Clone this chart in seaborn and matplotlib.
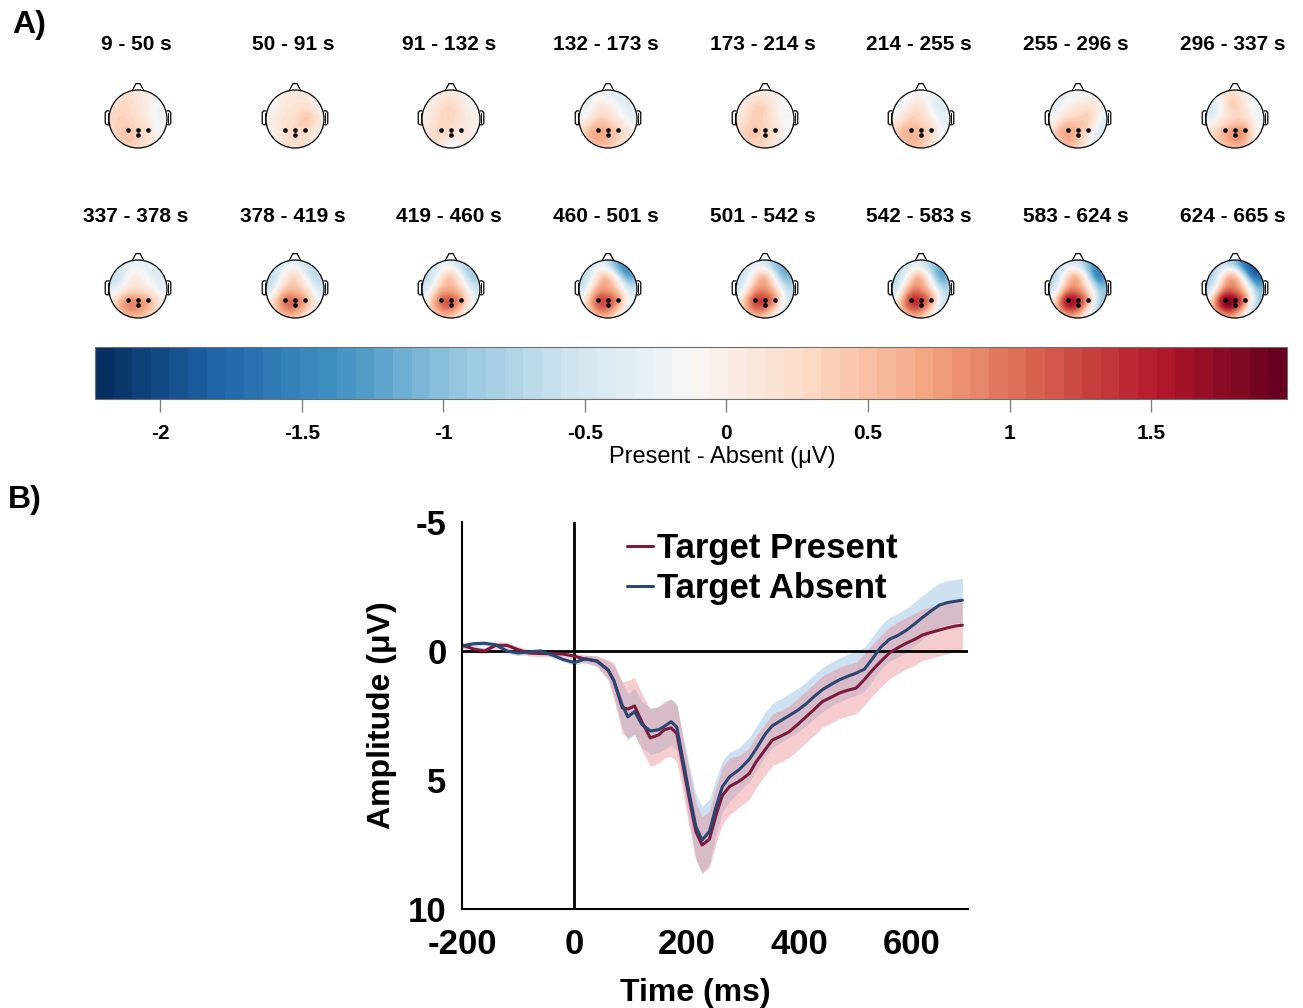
import numpy as np
import pandas as pd
import matplotlib
matplotlib.use("Agg")
import matplotlib.pyplot as plt
import seaborn as sns
from matplotlib.colors import ListedColormap, Normalize
from matplotlib.patches import Circle, Polygon
from matplotlib.lines import Line2D
import matplotlib.cm as mcm

# ---------------- data ----------------
window_edges = [9, 50, 91, 132, 173, 214, 255, 296, 337, 378, 419, 460, 501, 542, 583, 624, 665]

electrode_names = ["Fp1", "Fp2", "F7", "F3", "Fz", "F4", "F8", "T7", "C3", "Cz",
                   "C4", "T8", "P7", "P3", "Pz", "P4", "P8", "O1", "Oz", "O2"]
electrode_x = [-0.30, 0.30, -0.72, -0.35, 0.00, 0.35, 0.72, -0.92, -0.46, 0.00,
               0.46, 0.92, -0.72, -0.35, 0.00, 0.35, 0.72, -0.30, 0.00, 0.30]
electrode_y = [0.85, 0.85, 0.52, 0.45, 0.45, 0.45, 0.52, 0.00, 0.00, 0.00,
               0.00, 0.00, -0.52, -0.45, -0.45, -0.45, -0.52, -0.85, -0.95, -0.85]
roi_x = [-0.34, 0.00, 0.34, 0.00]
roi_y = [-0.38, -0.38, -0.38, -0.56]

# Present - Absent difference (µV) per window, electrode order as above
topo_values = [
    [0.20, 0.00, 0.25, 0.30, 0.15, 0.00, -0.20, 0.30, 0.35, 0.20, -0.05, -0.25, 0.35, 0.45, 0.35, 0.20, -0.15, 0.40, 0.30, 0.15],
    [0.05, 0.10, -0.10, 0.10, 0.15, 0.20, 0.00, -0.05, 0.15, 0.25, 0.45, 0.05, 0.00, 0.20, 0.30, 0.25, 0.05, 0.20, 0.25, 0.20],
    [0.10, 0.00, 0.00, 0.20, 0.30, 0.10, -0.10, 0.00, 0.25, 0.30, 0.10, -0.05, 0.20, 0.30, 0.20, 0.10, 0.00, 0.10, -0.20, 0.00],
    [-0.20, -0.35, -0.25, 0.05, 0.05, -0.20, -0.35, -0.10, 0.30, 0.30, 0.00, -0.30, 0.50, 0.70, 0.60, 0.40, 0.10, 0.55, 0.45, 0.30],
    [0.10, 0.00, 0.10, 0.35, 0.30, 0.05, -0.15, 0.10, 0.35, 0.30, 0.00, -0.20, 0.35, 0.45, 0.35, 0.20, -0.10, 0.35, 0.30, 0.10],
    [-0.10, -0.20, -0.25, 0.10, 0.15, -0.20, -0.40, 0.00, 0.35, 0.30, -0.05, -0.30, 0.50, 0.60, 0.50, 0.30, -0.20, 0.55, 0.45, 0.20],
    [-0.20, -0.10, -0.30, 0.00, 0.10, 0.20, 0.00, -0.15, 0.30, 0.35, 0.30, -0.35, 0.50, 0.70, 0.55, 0.20, -0.40, 0.55, 0.40, 0.00],
    [0.20, 0.00, -0.40, 0.10, 0.40, 0.10, -0.20, -0.30, 0.10, 0.30, 0.20, -0.25, 0.30, 0.60, 0.80, 0.70, 0.00, 0.55, 0.60, 0.55],
    [-0.30, -0.30, -0.60, -0.10, 0.00, -0.20, -0.40, -0.40, 0.10, 0.20, 0.00, -0.30, 0.45, 0.85, 0.85, 0.65, 0.15, 0.65, 0.55, 0.45],
    [-0.30, -0.50, -0.60, 0.00, 0.30, -0.20, -0.70, -0.50, 0.30, 0.50, 0.10, -0.50, 0.35, 1.00, 1.00, 0.70, 0.00, 0.65, 0.55, 0.30],
    [-0.30, -0.60, -0.60, 0.10, 0.40, -0.20, -0.90, -0.50, 0.40, 0.60, 0.10, -0.60, 0.35, 1.10, 1.10, 0.70, -0.20, 0.65, 0.50, 0.20],
    [-0.30, -1.20, -0.60, 0.20, 0.40, -0.40, -1.40, -0.50, 0.50, 0.70, 0.10, -0.60, 0.35, 1.20, 1.20, 0.80, -0.20, 0.70, 0.55, 0.20],
    [-0.30, -0.90, -0.50, 0.20, 0.50, -0.30, -1.20, -0.50, 0.50, 0.80, 0.10, -0.70, 0.45, 1.30, 1.20, 0.80, -0.40, 0.70, 0.50, 0.10],
    [-0.40, -0.80, -0.60, 0.20, 0.50, -0.40, -1.30, -0.60, 0.60, 0.80, 0.00, -0.80, 0.45, 1.40, 1.30, 0.80, -0.50, 0.75, 0.55, 0.10],
    [-0.40, -1.00, -0.60, 0.30, 0.50, -0.50, -1.60, -0.60, 0.60, 0.80, -0.10, -1.00, 0.60, 1.70, 1.40, 0.70, -0.80, 0.85, 0.55, 0.00],
    [-0.60, -1.60, -0.70, 0.30, 0.50, -0.60, -1.90, -0.60, 0.70, 0.90, 0.00, -1.10, 0.70, 1.90, 1.60, 0.90, -0.70, 0.95, 0.65, 0.10],
]

cbar_min, cbar_max = -2.23, 1.98
cbar_ticks = [-2, -1.5, -1, -0.5, 0, 0.5, 1, 1.5]
cbar_ticklabels = ["-2", "-1.5", "-1", "-0.5", "0", "0.5", "1", "1.5"]

time_ms = [-200, -180, -160, -140, -120, -100, -80, -60, -40, -20, 0, 20, 40, 60, 70, 85, 95, 107, 120, 135,
           150, 160, 172, 182, 192, 204, 216, 227, 240, 252, 263, 276, 293, 311, 323, 340, 352, 367, 382, 397,
           412, 427, 441, 456, 471, 486, 501, 516, 530, 545, 560, 575, 590, 605, 619, 634, 649, 664, 678, 690]
present_amp = [-0.23, -0.08, 0.00, -0.22, -0.22, -0.05, 0.08, 0.10, 0.10, 0.12, 0.20, 0.32, 0.38, 0.74, 1.15, 2.20, 2.25, 2.13, 2.75, 3.37,
               3.25, 3.05, 2.98, 3.20, 4.30, 5.70, 7.00, 7.52, 7.30, 6.35, 5.60, 5.25, 5.05, 4.75, 4.30, 3.80, 3.45, 3.30, 3.13, 2.85,
               2.55, 2.25, 1.96, 1.80, 1.63, 1.52, 1.44, 1.10, 0.74, 0.40, 0.08, -0.12, -0.30, -0.45, -0.62, -0.72, -0.81, -0.90, -0.97, -1.00]
absent_amp = [-0.19, -0.28, -0.30, -0.24, 0.00, 0.08, 0.03, 0.00, 0.15, 0.33, 0.45, 0.30, 0.40, 0.74, 1.15, 2.10, 2.55, 2.35, 2.85, 3.10,
              3.05, 2.92, 2.74, 2.95, 4.10, 5.50, 6.80, 7.33, 7.00, 6.03, 5.26, 4.87, 4.60, 4.20, 3.80, 3.20, 2.90, 2.70, 2.50, 2.30,
              2.05, 1.75, 1.50, 1.30, 1.12, 0.98, 0.86, 0.70, 0.30, -0.15, -0.45, -0.60, -0.80, -1.05, -1.30, -1.55, -1.78, -1.88, -1.93, -1.97]
present_ci = [0.12, 0.12, 0.12, 0.12, 0.12, 0.12, 0.12, 0.12, 0.12, 0.12, 0.12, 0.15, 0.20, 0.40, 0.70, 1.00, 1.10, 1.10, 1.10, 1.10,
              1.10, 1.10, 1.10, 1.10, 1.10, 1.10, 1.10, 1.10, 1.10, 1.10, 1.10, 1.10, 1.00, 1.00, 1.00, 1.00, 1.00, 1.00, 1.00, 1.00,
              1.00, 1.00, 1.00, 1.00, 1.00, 1.00, 1.00, 1.00, 1.00, 1.00, 1.00, 1.00, 1.00, 1.00, 1.00, 1.00, 1.00, 1.00, 1.00, 1.00]
absent_ci = [0.10, 0.10, 0.10, 0.10, 0.10, 0.10, 0.10, 0.10, 0.10, 0.10, 0.10, 0.15, 0.20, 0.35, 0.60, 0.90, 0.90, 0.90, 0.90, 0.90,
             0.90, 0.90, 0.90, 0.90, 0.90, 1.10, 1.25, 1.30, 1.25, 1.10, 1.00, 0.95, 0.85, 0.85, 0.85, 0.85, 0.85, 0.85, 0.85, 0.85,
             0.85, 0.85, 0.85, 0.85, 0.85, 0.85, 0.85, 0.85, 0.85, 0.85, 0.85, 0.85, 0.85, 0.85, 0.85, 0.85, 0.85, 0.85, 0.85, 0.85]
conditions = ["Target Present", "Target Absent"]
line_colors = {"Target Present": "#7a1c3e", "Target Absent": "#2c4672"}
band_colors = {"Target Present": "#e8848e", "Target Absent": "#86b6de"}

# ---------------- style ----------------
sns.set_theme(style="white")
plt.rcParams["font.family"] = ["Liberation Sans", "DejaVu Sans"]
plt.rcParams["axes.unicode_minus"] = False
plt.rcParams["text.color"] = "black"
plt.rcParams["axes.labelcolor"] = "black"
plt.rcParams["xtick.color"] = "black"
plt.rcParams["ytick.color"] = "black"
plt.rcParams["axes.edgecolor"] = "black"
plt.rcParams["lines.solid_joinstyle"] = "round"

W, H = 1303, 1008
fig = plt.figure(figsize=(W / 100, H / 100), dpi=100)


def px_axes(x0, y0, x1, y1):
    return fig.add_axes([x0 / W, 1 - y1 / H, (x1 - x0) / W, (y1 - y0) / H])


cmap = ListedColormap(plt.get_cmap("RdBu_r")(np.linspace(0, 1, 64)))
norm = Normalize(vmin=cbar_min, vmax=cbar_max)

# ---------------- topomaps ----------------
ex = np.array(electrode_x)
ey = np.array(electrode_y)
grid = np.linspace(-1, 1, 161)
GX, GY = np.meshgrid(grid, grid)
sig = 0.36


def kern(ax_, ay_, bx_, by_):
    return np.exp(-((ax_ - bx_) ** 2 + (ay_ - by_) ** 2) / (2 * sig ** 2))


K = kern(ex[:, None], ey[:, None], ex[None, :], ey[None, :])
Kg = kern(GX.ravel()[:, None], GY.ravel()[:, None], ex[None, :], ey[None, :])

R = 29.0
head_cx = [138, 295, 451, 608, 765, 921, 1078, 1235]
head_cy = [119, 289]
title_cy = [44, 216]

for i, vals in enumerate(topo_values):
    row, col = divmod(i, 8)
    cx, cy = head_cx[col], head_cy[row]
    ax = px_axes(cx - 1.4 * R, cy - 1.4 * R, cx + 1.4 * R, cy + 1.4 * R)
    v = np.array(vals)
    w = np.linalg.solve(K + 0.08 * np.eye(len(v)), v - v.mean())
    Z = (v.mean() + Kg @ w).reshape(GX.shape)
    im = ax.imshow(Z, extent=(-1, 1, -1, 1), origin="lower", cmap=cmap, norm=norm,
                   interpolation="bilinear")
    circ = Circle((0, 0), 1.0, transform=ax.transData, fc="none", ec="black", lw=0.9, zorder=3)
    ax.add_patch(circ)
    im.set_clip_path(circ)
    nose = Polygon([(-0.2, 0.98), (-0.07, 1.22), (0.07, 1.22), (0.2, 0.98)], closed=False,
                   fill=False, ec="black", lw=0.9)
    ax.add_patch(nose)
    for s in (-1, 1):
        ear = Polygon([(s * 0.99, 0.28), (s * 1.08, 0.28), (s * 1.13, 0.22), (s * 1.13, -0.15),
                       (s * 1.08, -0.2), (s * 0.99, -0.2)], closed=False, fill=False, ec="black", lw=0.9)
        ax.add_patch(ear)
        ax.plot([s * 1.05, s * 1.05], [0.22, -0.14], color="black", lw=0.7)
    ax.plot(roi_x, roi_y, "o", ms=2.3, color="black", zorder=4)
    ax.set_xlim(-1.4, 1.4)
    ax.set_ylim(-1.4, 1.4)
    ax.set_aspect("equal")
    ax.axis("off")
    fig.text((cx - 2) / W, 1 - title_cy[row] / H,
             f"{window_edges[i]} - {window_edges[i + 1]} s",
             ha="center", va="center", fontsize=15, fontweight="bold")

# ---------------- colorbar ----------------
cax = px_axes(95, 347, 1287, 399)
sm = mcm.ScalarMappable(norm=norm, cmap=cmap)
cb = fig.colorbar(sm, cax=cax, orientation="horizontal")
cb.set_ticks(cbar_ticks)
cb.ax.set_xticklabels(cbar_ticklabels, fontsize=15, fontweight="bold")
cax.tick_params(axis="x", direction="out", length=9, width=1, color="#808080", pad=9)
cb.outline.set_edgecolor("#6e6e6e")
cb.outline.set_linewidth(0.8)
fig.text(722 / W, 1 - 457 / H, "Present - Absent (μV)", ha="center", va="center", fontsize=17)

fig.text(12 / W, 1 - 25 / H, "A)", ha="left", va="center", fontsize=23, fontweight="bold")
fig.text(8 / W, 1 - 500 / H, "B)", ha="left", va="center", fontsize=23, fontweight="bold")

# ---------------- ERP ----------------
ax = px_axes(462, 522, 968, 909)
t = np.array(time_ms)
amps = {"Target Present": np.array(present_amp), "Target Absent": np.array(absent_amp)}
cis = {"Target Present": np.array(present_ci), "Target Absent": np.array(absent_ci)}

for cond in ["Target Absent", "Target Present"]:
    ax.fill_between(t, amps[cond] - cis[cond], amps[cond] + cis[cond],
                    color=band_colors[cond], alpha=0.40, lw=0)

df = pd.DataFrame({
    "time": np.concatenate([t, t]),
    "amp": np.concatenate([amps["Target Present"], amps["Target Absent"]]),
    "cond": ["Target Present"] * len(t) + ["Target Absent"] * len(t),
})
sns.lineplot(data=df, x="time", y="amp", hue="cond", hue_order=conditions, palette=line_colors,
             estimator=None, sort=False, linewidth=2.2, legend=False, ax=ax)

ax.axhline(0, color="black", lw=2.0, zorder=1)
ax.axvline(0, color="black", lw=2.0, zorder=1)
ax.set_xlim(-200, 700)
ax.set_ylim(10, -5)
ax.set_xticks([-200, 0, 200, 400, 600])
ax.set_yticks([-5, 0, 5, 10])
ax.tick_params(axis="both", direction="out", length=7, width=1.5, labelsize=25)
ax.tick_params(axis="x", pad=7)
ax.tick_params(axis="y", pad=4)
for lbl in ax.get_xticklabels() + ax.get_yticklabels():
    lbl.set_fontweight("bold")
sns.despine(ax=ax)
for sp in ("left", "bottom"):
    ax.spines[sp].set_linewidth(1.5)
    ax.spines[sp].set_color("black")
ax.set_xlabel("Time (ms)", fontsize=23, fontweight="bold", labelpad=13)
ax.xaxis.set_label_coords(0.462, -0.178)
ax.set_ylabel("Amplitude (μV)", fontsize=23, fontweight="bold", labelpad=8)

handles = [Line2D([0], [0], color=line_colors[c], lw=2.2) for c in conditions]
ax.legend(handles, conditions, loc="upper left", bbox_to_anchor=(0.265, 1.055), frameon=False,
          handlelength=0.75, handletextpad=0.1, labelspacing=0.2,
          prop={"size": 25, "weight": "bold"})

fig.savefig("out.png", dpi=100)
